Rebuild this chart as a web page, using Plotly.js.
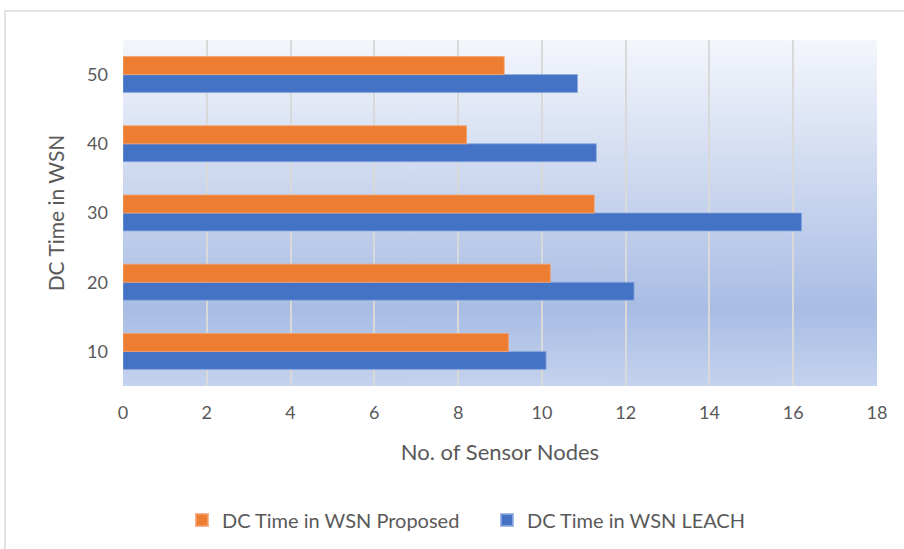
<!DOCTYPE html>
<html>
<head>
<meta charset="utf-8">
<script src="https://cdn.plot.ly/plotly-3.0.1.min.js"></script>
<style>html,body{margin:0;padding:0;background:#fff;}#chart{width:904px;height:549px;}</style>
</head>
<body>
<div id="chart"></div>
<script>
var categories = ["10", "20", "30", "40", "50"];
var leachValues = [10.1, 12.2, 16.2, 11.3, 10.85];
var proposedValues = [9.2, 10.2, 11.25, 8.2, 9.1];
var xTickValues = [0, 2, 4, 6, 8, 10, 12, 14, 16, 18];
var seriesNames = ["DC Time in WSN LEACH", "DC Time in WSN Proposed"];

function gradientURL() {
  var c = document.createElement('canvas');
  c.width = 4; c.height = 400;
  var ctx = c.getContext('2d');
  var g = ctx.createLinearGradient(0, 0, 0, 400);
  g.addColorStop(0, '#f4f6fc');
  g.addColorStop(0.78, '#a9bde4');
  g.addColorStop(1, '#c4d3ee');
  ctx.fillStyle = g;
  ctx.fillRect(0, 0, 4, 400);
  return c.toDataURL('image/png');
}

var font = "Lato, 'Open Sans', sans-serif";
var textColor = '#595959';

var traces = [
  {
    type: 'bar', orientation: 'h', name: seriesNames[0],
    y: categories, x: leachValues,
    marker: {color: '#4472C4', line: {color: 'rgba(140,170,225,0.8)', width: 1}},
    hoverinfo: 'x+name'
  },
  {
    type: 'bar', orientation: 'h', name: seriesNames[1],
    y: categories, x: proposedValues,
    marker: {color: '#ED7D31', line: {color: 'rgba(245,160,110,0.8)', width: 1}},
    hoverinfo: 'x+name'
  }
];

var layout = {
  width: 904, height: 549,
  margin: {l: 123, r: 27, t: 40, b: 163, autoexpand: false},
  paper_bgcolor: '#ffffff',
  plot_bgcolor: 'rgba(0,0,0,0)',
  barmode: 'group',
  bargap: 0.48,
  bargroupgap: 0,
  font: {family: font, color: textColor, size: 18},
  showlegend: true,
  legend: {
    orientation: 'h', traceorder: 'reversed',
    x: 0.0782, xanchor: 'left', y: -0.387, yanchor: 'middle',
    font: {family: font, size: 20, color: textColor},
    itemwidth: 30, itemsizing: 'constant',
    entrywidth: 260, entrywidthmode: 'pixels'
  },
  xaxis: {
    range: [0, 18], tickvals: xTickValues, ticktext: xTickValues.map(String),
    showgrid: true, gridcolor: '#d9d9d9', gridwidth: 2,
    zeroline: false, showline: false, ticks: '', automargin: false,
    ticklabelstandoff: 14,
    tickfont: {family: font, size: 18, color: textColor},
    title: {text: 'No. of Sensor Nodes', font: {family: font, size: 22, color: textColor}, standoff: 22},
    fixedrange: true
  },
  yaxis: {
    type: 'category', categoryorder: 'array', categoryarray: categories,
    showgrid: false, zeroline: false, showline: false, ticks: '', automargin: false,
    ticklabelstandoff: 14,
    tickfont: {family: font, size: 18, color: textColor},
    title: {text: 'DC Time in WSN', font: {family: font, size: 21, color: textColor}, standoff: 16},
    fixedrange: true
  },
  images: [{
    source: gradientURL(), xref: 'paper', yref: 'paper',
    x: 0, y: 1, sizex: 1, sizey: 1, xanchor: 'left', yanchor: 'top',
    sizing: 'stretch', layer: 'below'
  }],
  shapes: [{
    type: 'rect', xref: 'paper', yref: 'paper',
    x0: -0.1565, x1: 1.05, y0: -0.5, y1: 1.0838,
    line: {color: '#d9d9d9', width: 1.5}, fillcolor: 'rgba(0,0,0,0)', layer: 'below'
  }]
};

Plotly.newPlot('chart', traces, layout, {staticPlot: true, displayModeBar: false});
</script>
</body>
</html>
